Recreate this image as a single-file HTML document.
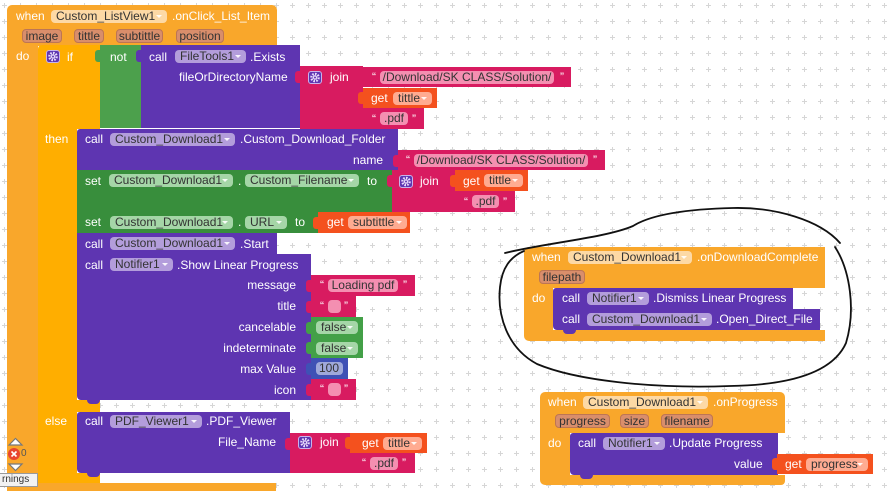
<!DOCTYPE html>
<html><head><meta charset="utf-8">
<style>
html,body{margin:0;padding:0;background:#fff;}
#w{position:relative;width:891px;height:491px;overflow:hidden;background:#fff;}
.r{position:absolute;}
.l{position:absolute;font:12px/14px "Liberation Sans",Arial,sans-serif;color:#fff;white-space:nowrap;}
.c{position:absolute;height:13px;border-radius:4px;font:12px/13px "Liberation Sans",Arial,sans-serif;color:#333;padding-left:5px;box-sizing:border-box;white-space:nowrap;overflow:hidden;}
.a{position:absolute;right:5px;top:5px;width:0;height:0;border-left:3px solid transparent;border-right:3px solid transparent;border-top:3px solid rgba(255,255,255,.9);}
.p{position:absolute;height:14px;border-radius:4px;background:#D98E6B;border:1px solid #BD7554;box-sizing:border-box;font:12px/12px "Liberation Sans",Arial,sans-serif;color:#333;text-align:center;white-space:nowrap;}
.ev{background:#F9A72B;}
.pu{background:#5E35B1;}
.mg{background:#D81B60;}
.gt{background:#F4511E;}
.sg{background:#388E3C;}
.lg{background:#43A047;}
.cp{background:#B39DDB;}
.ce{background:#FDD9A5;}
.cs{background:#A5D6A7;}
.ct{background:#F48FB1;padding-left:0;text-align:center;}
.cg{background:#FFAB91;}
.g{position:absolute;width:14px;height:13px;border-radius:3px;background:#5E35B1;border:1px solid #C7B4EC;box-sizing:border-box;}
.tab{position:absolute;width:6px;height:12px;border-radius:3px 0 0 3px;}
.bump{position:absolute;width:13px;height:4px;border-radius:0 0 4px 4px;}
</style></head>
<body><div id="w">
<svg class="r" style="left:0;top:0" width="891" height="491">
<defs><pattern id="gp" patternUnits="userSpaceOnUse" width="16" height="16">
<rect x="2" y="5" width="5" height="1" fill="#d6d6d6"/><rect x="4" y="3" width="1" height="5" fill="#d6d6d6"/>
</pattern></defs>
<rect width="891" height="491" fill="url(#gp)"/>
</svg>

<!-- ===== Main event block ===== -->
<div class="r ev" style="left:7px;top:5px;width:270px;height:41px;border-radius:5px 5px 0 0"></div>
<div class="r ev" style="left:7px;top:46px;width:31px;height:445px"></div>
<div class="r ev" style="left:7px;top:483px;width:269px;height:8px"></div>
<div class="l" style="left:16px;top:9px">when</div>
<div class="c ce" style="left:51px;top:10px;width:116px">Custom_ListView1<span class="a"></span></div>
<div class="l" style="left:172px;top:9px">.onClick_List_Item</div>
<div class="p" style="left:22px;top:29px;width:40px">image</div>
<div class="p" style="left:74px;top:29px;width:30px">tittle</div>
<div class="p" style="left:116px;top:29px;width:47px">subtittle</div>
<div class="p" style="left:176px;top:29px;width:48px">position</div>
<div class="l" style="left:16px;top:49px">do</div>

<!-- if block -->
<div class="r" style="left:38px;top:45px;width:62px;height:84px;background:#FFAE00;border-radius:4px 0 0 0"></div>
<div class="r" style="left:38px;top:129px;width:39px;height:354px;background:#FFAE00"></div>
<div class="r" style="left:38px;top:400px;width:62px;height:12px;background:#FFAE00"></div>
<div class="r" style="left:38px;top:473px;width:62px;height:10px;background:#FFAE00;border-radius:0 0 0 4px"></div>
<div class="g" style="left:46px;top:50px"><svg width="12" height="11" style="position:absolute;left:0;top:0"><circle cx="6" cy="5.5" r="3.6" fill="none" stroke="#E8DDFB" stroke-width="2.4" stroke-dasharray="1.6 1.2"/><circle cx="6" cy="5.5" r="1.6" fill="none" stroke="#E8DDFB" stroke-width="1.2"/></svg></div>
<div class="l" style="left:67px;top:50px">if</div>

<!-- not -->
<div class="r" style="left:100px;top:45px;width:41px;height:83px;background:#4CA04C"></div>
<div class="tab" style="left:95px;top:50px;background:#4CA04C"></div>
<div class="l" style="left:110px;top:50px">not</div>

<!-- call FileTools1.Exists -->
<div class="r pu" style="left:141px;top:45px;width:159px;height:83px"></div>
<div class="tab pu" style="left:136px;top:50px"></div>
<div class="l" style="left:149px;top:50px">call</div>
<div class="c cp" style="left:175px;top:50px;width:71px">FileTools1<span class="a"></span></div>
<div class="l" style="left:250px;top:50px">.Exists</div>
<div class="l" style="left:179px;top:70px">fileOrDirectoryName</div>

<!-- join1 -->
<div class="r mg" style="left:300px;top:66px;width:63px;height:63px"></div>
<div class="tab mg" style="left:295px;top:71px"></div>
<div class="g" style="left:308px;top:71px"><svg width="12" height="11" style="position:absolute;left:0;top:0"><circle cx="6" cy="5.5" r="3.6" fill="none" stroke="#E8DDFB" stroke-width="2.4" stroke-dasharray="1.6 1.2"/><circle cx="6" cy="5.5" r="1.6" fill="none" stroke="#E8DDFB" stroke-width="1.2"/></svg></div>
<div class="l" style="left:330px;top:70px">join</div>
<div class="r mg" style="left:363px;top:67px;width:208px;height:20px"></div>
<div class="l" style="left:372px;top:70px">“</div>
<div class="c ct" style="left:380px;top:71px;width:174px">/Download/SK CLASS/Solution/</div>
<div class="l" style="left:560px;top:70px">”</div>
<div class="r gt" style="left:363px;top:88px;width:74px;height:20px"></div>
<div class="tab gt" style="left:358px;top:92px"></div>
<div class="l" style="left:371px;top:91px">get</div>
<div class="c cg" style="left:393px;top:92px;width:39px">tittle<span class="a"></span></div>
<div class="r mg" style="left:363px;top:108px;width:61px;height:21px"></div>
<div class="l" style="left:372px;top:112px">“</div>
<div class="c ct" style="left:380px;top:112px;width:28px">.pdf</div>
<div class="l" style="left:412px;top:112px">”</div>

<!-- then -->
<div class="l" style="left:45px;top:132px">then</div>
<div class="r pu" style="left:77px;top:129px;width:321px;height:41px;border-radius:3px 0 0 0"></div>
<div class="l" style="left:85px;top:132px">call</div>
<div class="c cp" style="left:110px;top:133px;width:125px">Custom_Download1<span class="a"></span></div>
<div class="l" style="left:240px;top:132px">.Custom_Download_Folder</div>
<div class="l" style="left:353px;top:153px">name</div>
<div class="r mg" style="left:398px;top:150px;width:207px;height:20px"></div>
<div class="tab mg" style="left:393px;top:155px"></div>
<div class="l" style="left:406px;top:153px">“</div>
<div class="c ct" style="left:414px;top:154px;width:174px">/Download/SK CLASS/Solution/</div>
<div class="l" style="left:593px;top:153px">”</div>

<!-- set Custom_Filename -->
<div class="r sg" style="left:77px;top:170px;width:315px;height:42px"></div>
<div class="l" style="left:85px;top:174px">set</div>
<div class="c cs" style="left:109px;top:174px;width:124px">Custom_Download1<span class="a"></span></div>
<div class="l" style="left:238px;top:174px">.</div>
<div class="c cs" style="left:245px;top:174px;width:114px">Custom_Filename<span class="a"></span></div>
<div class="l" style="left:367px;top:174px">to</div>
<div class="r mg" style="left:392px;top:170px;width:63px;height:42px"></div>
<div class="tab mg" style="left:387px;top:175px"></div>
<div class="g" style="left:399px;top:175px"><svg width="12" height="11" style="position:absolute;left:0;top:0"><circle cx="6" cy="5.5" r="3.6" fill="none" stroke="#E8DDFB" stroke-width="2.4" stroke-dasharray="1.6 1.2"/><circle cx="6" cy="5.5" r="1.6" fill="none" stroke="#E8DDFB" stroke-width="1.2"/></svg></div>
<div class="l" style="left:420px;top:174px">join</div>
<div class="r gt" style="left:455px;top:170px;width:73px;height:21px"></div>
<div class="tab gt" style="left:450px;top:175px"></div>
<div class="l" style="left:463px;top:174px">get</div>
<div class="c cg" style="left:484px;top:174px;width:39px">tittle<span class="a"></span></div>
<div class="r mg" style="left:455px;top:191px;width:60px;height:21px"></div>
<div class="l" style="left:464px;top:195px">“</div>
<div class="c ct" style="left:472px;top:195px;width:27px">.pdf</div>
<div class="l" style="left:503px;top:195px">”</div>

<!-- set URL -->
<div class="r sg" style="left:77px;top:212px;width:241px;height:21px"></div>
<div class="l" style="left:85px;top:215px">set</div>
<div class="c cs" style="left:110px;top:216px;width:123px">Custom_Download1<span class="a"></span></div>
<div class="l" style="left:238px;top:215px">.</div>
<div class="c cs" style="left:245px;top:216px;width:42px">URL<span class="a"></span></div>
<div class="l" style="left:295px;top:215px">to</div>
<div class="r gt" style="left:318px;top:212px;width:92px;height:21px"></div>
<div class="tab gt" style="left:313px;top:217px"></div>
<div class="l" style="left:327px;top:215px">get</div>
<div class="c cg" style="left:348px;top:216px;width:59px">subtittle<span class="a"></span></div>

<!-- Start -->
<div class="r pu" style="left:77px;top:233px;width:200px;height:21px"></div>
<div class="l" style="left:85px;top:237px">call</div>
<div class="c cp" style="left:110px;top:237px;width:125px">Custom_Download1<span class="a"></span></div>
<div class="l" style="left:240px;top:237px">.Start</div>

<!-- Show Linear Progress -->
<div class="r pu" style="left:77px;top:254px;width:234px;height:146px;border-radius:0 0 0 4px"></div>
<div class="bump pu" style="left:87px;top:400px"></div>
<div class="l" style="left:85px;top:258px">call</div>
<div class="c cp" style="left:110px;top:258px;width:63px">Notifier1<span class="a"></span></div>
<div class="l" style="left:177px;top:258px">.Show Linear Progress</div>
<div class="l" style="left:150px;width:146px;text-align:right;top:278px">message</div>
<div class="l" style="left:150px;width:146px;text-align:right;top:299px">title</div>
<div class="l" style="left:150px;width:146px;text-align:right;top:320px">cancelable</div>
<div class="l" style="left:150px;width:146px;text-align:right;top:341px">indeterminate</div>
<div class="l" style="left:150px;width:146px;text-align:right;top:362px">max Value</div>
<div class="l" style="left:150px;width:146px;text-align:right;top:383px">icon</div>

<div class="r mg" style="left:311px;top:275px;width:104px;height:21px"></div>
<div class="tab mg" style="left:306px;top:280px"></div>
<div class="l" style="left:320px;top:278px">“</div>
<div class="c ct" style="left:328px;top:279px;width:70px">Loading pdf</div>
<div class="l" style="left:403px;top:278px">”</div>

<div class="r mg" style="left:311px;top:296px;width:45px;height:21px"></div>
<div class="tab mg" style="left:306px;top:301px"></div>
<div class="l" style="left:320px;top:299px">“</div>
<div class="c ct" style="left:328px;top:300px;width:13px"></div>
<div class="l" style="left:344px;top:299px">”</div>

<div class="r lg" style="left:311px;top:317px;width:52px;height:21px"></div>
<div class="tab lg" style="left:306px;top:322px"></div>
<div class="c cs" style="left:316px;top:321px;width:42px">false<span class="a"></span></div>

<div class="r lg" style="left:311px;top:338px;width:52px;height:20px"></div>
<div class="tab lg" style="left:306px;top:342px"></div>
<div class="c cs" style="left:316px;top:342px;width:42px">false<span class="a"></span></div>

<div class="r" style="left:311px;top:358px;width:37px;height:21px;background:#3F51B5"></div>
<div class="tab" style="left:306px;top:363px;background:#3F51B5"></div>
<div class="c" style="left:316px;top:362px;width:27px;background:#9FA8DA;padding-left:3px">100</div>

<div class="r mg" style="left:311px;top:379px;width:45px;height:21px"></div>
<div class="tab mg" style="left:306px;top:384px"></div>
<div class="l" style="left:320px;top:382px">“</div>
<div class="c ct" style="left:328px;top:383px;width:13px"></div>
<div class="l" style="left:344px;top:382px">”</div>

<!-- else -->
<div class="l" style="left:45px;top:414px">else</div>
<div class="r pu" style="left:77px;top:412px;width:213px;height:61px;border-radius:3px 0 0 4px"></div>
<div class="bump pu" style="left:87px;top:473px"></div>
<div class="l" style="left:85px;top:414px">call</div>
<div class="c cp" style="left:110px;top:415px;width:92px">PDF_Viewer1<span class="a"></span></div>
<div class="l" style="left:206px;top:414px">.PDF_Viewer</div>
<div class="l" style="left:200px;width:76px;text-align:right;top:435px">File_Name</div>
<div class="r mg" style="left:290px;top:433px;width:60px;height:40px"></div>
<div class="tab mg" style="left:285px;top:438px"></div>
<div class="g" style="left:298px;top:436px"><svg width="12" height="11" style="position:absolute;left:0;top:0"><circle cx="6" cy="5.5" r="3.6" fill="none" stroke="#E8DDFB" stroke-width="2.4" stroke-dasharray="1.6 1.2"/><circle cx="6" cy="5.5" r="1.6" fill="none" stroke="#E8DDFB" stroke-width="1.2"/></svg></div>
<div class="l" style="left:320px;top:435px">join</div>
<div class="r gt" style="left:350px;top:433px;width:77px;height:20px"></div>
<div class="tab gt" style="left:345px;top:437px"></div>
<div class="l" style="left:362px;top:436px">get</div>
<div class="c cg" style="left:383px;top:437px;width:39px">tittle<span class="a"></span></div>
<div class="r mg" style="left:350px;top:453px;width:65px;height:20px"></div>
<div class="l" style="left:362px;top:456px">“</div>
<div class="c ct" style="left:370px;top:457px;width:28px">.pdf</div>
<div class="l" style="left:402px;top:456px">”</div>

<!-- ===== onDownloadComplete ===== -->
<div class="r ev" style="left:524px;top:247px;width:301px;height:41px;border-radius:5px 0 0 0"></div>
<div class="r ev" style="left:524px;top:288px;width:29px;height:42px"></div>
<div class="r ev" style="left:524px;top:330px;width:301px;height:11px;border-radius:0 0 0 5px"></div>
<div class="l" style="left:532px;top:250px">when</div>
<div class="c ce" style="left:568px;top:251px;width:124px">Custom_Download1<span class="a"></span></div>
<div class="l" style="left:697px;top:250px">.onDownloadComplete</div>
<div class="p" style="left:539px;top:270px;width:46px">filepath</div>
<div class="l" style="left:532px;top:291px">do</div>
<div class="r pu" style="left:553px;top:288px;width:240px;height:21px;border-radius:3px 0 0 0"></div>
<div class="l" style="left:562px;top:291px">call</div>
<div class="c cp" style="left:587px;top:292px;width:62px">Notifier1<span class="a"></span></div>
<div class="l" style="left:653px;top:291px">.Dismiss Linear Progress</div>
<div class="r pu" style="left:553px;top:309px;width:267px;height:21px;border-radius:0 0 0 4px"></div>
<div class="bump pu" style="left:563px;top:330px"></div>
<div class="l" style="left:562px;top:312px">call</div>
<div class="c cp" style="left:587px;top:313px;width:125px">Custom_Download1<span class="a"></span></div>
<div class="l" style="left:716px;top:312px">.Open_Direct_File</div>

<!-- ===== onProgress ===== -->
<div class="r ev" style="left:540px;top:392px;width:245px;height:41px;border-radius:5px 5px 0 0"></div>
<div class="r ev" style="left:540px;top:433px;width:30px;height:42px"></div>
<div class="r ev" style="left:540px;top:475px;width:245px;height:10px;border-radius:0 0 4px 5px"></div>
<div class="l" style="left:548px;top:395px">when</div>
<div class="c ce" style="left:583px;top:396px;width:125px">Custom_Download1<span class="a"></span></div>
<div class="l" style="left:713px;top:395px">.onProgress</div>
<div class="p" style="left:555px;top:414px;width:55px">progress</div>
<div class="p" style="left:620px;top:414px;width:29px">size</div>
<div class="p" style="left:661px;top:414px;width:52px">filename</div>
<div class="l" style="left:548px;top:436px">do</div>
<div class="r pu" style="left:570px;top:433px;width:208px;height:42px;border-radius:3px 0 0 4px"></div>
<div class="bump pu" style="left:580px;top:475px"></div>
<div class="l" style="left:578px;top:436px">call</div>
<div class="c cp" style="left:603px;top:437px;width:62px">Notifier1<span class="a"></span></div>
<div class="l" style="left:669px;top:436px">.Update Progress</div>
<div class="l" style="left:734px;top:457px">value</div>
<div class="r gt" style="left:777px;top:454px;width:96px;height:20px"></div>
<div class="tab gt" style="left:772px;top:458px"></div>
<div class="l" style="left:785px;top:457px">get</div>
<div class="c cg" style="left:806px;top:458px;width:62px">progress<span class="a"></span></div>

<!-- hand-drawn ellipse -->
<svg class="r" style="left:0;top:0" width="891" height="491">
<path d="M505,253 C545,243 605,238 633,226 C652,214 690,209 733,208 C775,207 820,220 840,243" fill="none" stroke="#111" stroke-width="1.8" stroke-linecap="round"/>
<path d="M835,247 C850,270 856,310 846,343 C833,372 792,385 730,386 C650,389 575,380 537,364 C507,348 497,315 500,287 C502,268 510,257 524,251" fill="none" stroke="#111" stroke-width="1.8" stroke-linecap="round"/>
</svg>

<!-- warnings overlay -->
<svg class="r" style="left:0;top:434px" width="40" height="40">
<path d="M9,11 L15.5,4.5 L22,11 Z" fill="#fff" stroke="#777" stroke-width="1.2"/>
<circle cx="14" cy="20" r="6" fill="#E8452F"/>
<path d="M11.5,17.5 L16.5,22.5 M16.5,17.5 L11.5,22.5" stroke="#fff" stroke-width="1.6"/>
<path d="M9,30 L15.5,36.5 L22,30 Z" fill="#fff" stroke="#777" stroke-width="1.2"/>
</svg>
<div class="l" style="left:21px;top:447px;color:#555;font-size:10px">0</div>
<div class="r" style="left:-1px;top:473px;width:35px;height:12px;background:#f2f2f2;border:1px solid #999;font:10px/12px 'Liberation Sans',Arial,sans-serif;color:#333;padding-left:2px;box-sizing:content-box">rnings</div>

</div></body></html>
